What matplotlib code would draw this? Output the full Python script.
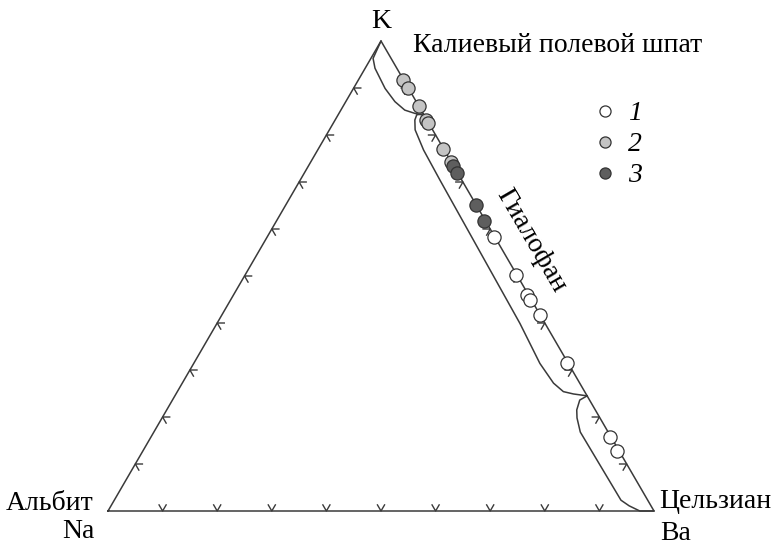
import numpy as np
import matplotlib
matplotlib.use('Agg')
import matplotlib.pyplot as plt
from matplotlib.lines import Line2D

plt.rcParams['font.family'] = ['Liberation Serif', 'DejaVu Serif']

# compositions, mol % (K, Ba); Na = 100 - K - Ba
k_1 = [58.2, 50.2, 46.0, 44.9, 41.7, 31.4, 15.7, 12.8]
ba_1 = [41.6, 49.7, 53.8, 54.8, 58.2, 68.4, 84.1, 86.8]
k_2 = [91.7, 89.9, 86.2, 83.2, 82.5, 77.0, 74.3]
ba_2 = [8.2, 10.0, 13.8, 16.7, 17.4, 22.9, 25.6]
k_3 = [73.3, 72.0, 65.1, 61.8]
ba_3 = [26.6, 27.9, 34.8, 37.9]
series_labels = ['1', '2', '3']

# field outlines (K, Ba in %)
kfs_k = [100, 96.3, 94.2, 89.9, 87.1, 85.3, 84.6, 84.3, 84.0]
kfs_ba = [0, 0.4, 1.8, 5.8, 9.0, 11.7, 13.9, 15.3, 16.0]
hyal_k = [84.5, 84.3, 83.2, 81.1, 76.8, 70.4, 39.9, 31.4, 27.2, 25.4, 24.9, 24.5]
hyal_ba = [15.5, 14.4, 14.6, 15.7, 19.4, 25.6, 55.5, 63.4, 68.0, 70.7, 72.8, 75.5]
cels_k = [24.5, 23.6, 21.5, 19.8, 16.8, 2.3, 1.1, 0.0, 0.0]
cels_ba = [75.5, 74.6, 75.1, 76.0, 78.1, 92.8, 94.9, 97.4, 100]

ticks = np.arange(1, 10) / 10

S3 = np.sqrt(3) / 2


def tern(k, ba):
    k = np.asarray(k, float) / 100
    ba = np.asarray(ba, float) / 100
    return ba + k / 2, k * S3


W, H = 774, 544
fig = plt.figure(figsize=(W / 100, H / 100), dpi=100)
ax = fig.add_axes([108 / W, 33 / H, 546 / W, 470 / H])
ax.set_xlim(0, 1)
ax.set_ylim(0, S3)
ax.axis('off')

line_c = '#3a3a3a'
corners = np.array([[0, 0], [1, 0], [0.5, S3], [0, 0]])
ax.plot(corners[:, 0], corners[:, 1], color=line_c, lw=1.1, clip_on=False)

# chevron ticks, opening towards the inside, arms parallel to the other edges
arm = 0.013
edges = [((0, 0), (1, 0)), ((0, 0), (0.5, S3)), ((0.5, S3), (1, 0))]
for (a, b) in edges:
    a, b = np.array(a), np.array(b)
    others = [c for c in corners[:3] if not (np.allclose(c, a) or np.allclose(c, b))][0]
    for t in ticks:
        p = a + (b - a) * t
        d1 = (others - a) / np.linalg.norm(others - a)
        d2 = (others - b) / np.linalg.norm(others - b)
        pts = np.array([p + d1 * arm, p, p + d2 * arm])
        ax.plot(pts[:, 0], pts[:, 1], color=line_c, lw=1.0, clip_on=False)

for kk, bb in [(kfs_k, kfs_ba), (hyal_k, hyal_ba), (cels_k, cels_ba)]:
    x, y = tern(kk, bb)
    ax.plot(x, y, color=line_c, lw=1.1, clip_on=False)

styles = [('white', k_1, ba_1), ('#c4c4c4', k_2, ba_2), ('#5e5e5e', k_3, ba_3)]
handles = []
for (fc, kk, bb), lab in zip(styles, series_labels):
    x, y = tern(kk, bb)
    ax.plot(x, y, 'o', ms=9.5, mfc=fc, mec='#333333', mew=0.9, ls='none',
            clip_on=False, zorder=5)
    handles.append(Line2D([], [], marker='o', ls='none', ms=8, mfc=fc,
                          mec='#333333', mew=0.9, label=lab))

fs = 20
leg = ax.legend(handles=handles, loc='upper left', frameon=False,
                bbox_to_anchor=(595 / W, 1 - 101 / H), bbox_transform=fig.transFigure,
                prop={'family': 'Liberation Serif', 'style': 'italic', 'size': fs},
                handlelength=0.7, handletextpad=0.5, labelspacing=0.2,
                borderaxespad=0, borderpad=0)


def px(x, y):
    return x / W, 1 - y / H


fig.text(*px(381, 21), 'K', ha='center', va='center', fontsize=fs)
fig.text(*px(413, 46), 'Калиевый полевой шпат', ha='left', va='center', fontsize=fs)
fig.text(*px(531, 241), 'Гиалофан', ha='center', va='center', fontsize=fs,
         rotation=-59.8, rotation_mode='anchor')
fig.text(*px(93, 503), 'Альбит', ha='right', va='center', fontsize=fs)
fig.text(*px(95, 531), 'Na', ha='right', va='center', fontsize=fs)
fig.text(*px(659, 502), 'Цельзиан', ha='left', va='center', fontsize=fs)
fig.text(*px(660, 533), 'Ba', ha='left', va='center', fontsize=fs)

fig.savefig('out.png', dpi=100)
